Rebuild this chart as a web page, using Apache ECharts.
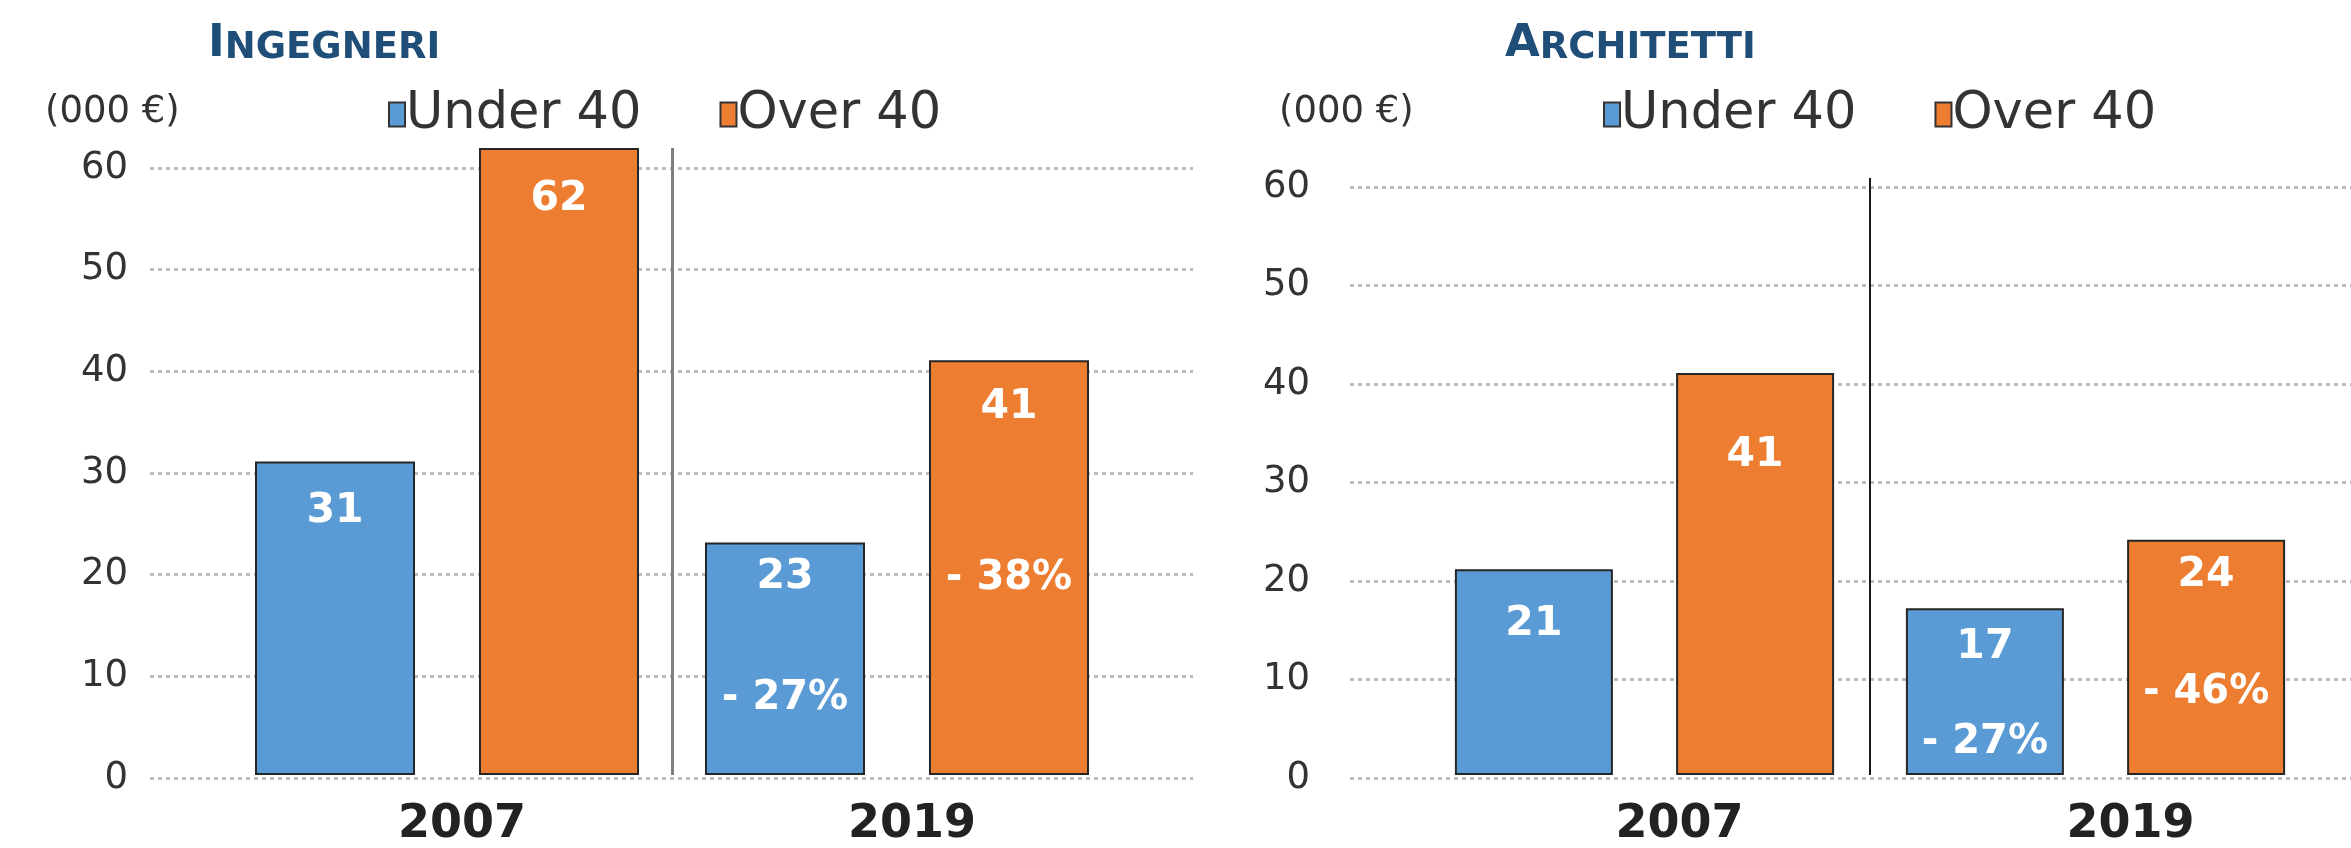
<!DOCTYPE html>
<html>
<head>
<meta charset="utf-8">
<script src="https://cdn.jsdelivr.net/npm/echarts@6/dist/echarts.min.js"></script>
<style>
  html, body { margin: 0; padding: 0; background: #fff; }
  #chart { width: 2351px; height: 848px; }
</style>
</head>
<body>
<div id="chart"></div>
<script>
// data
const years = ['2007', '2019'];
const groups = ['Under 40', 'Over 40'];
const yTicks = [0, 10, 20, 30, 40, 50, 60];

const ingUnder = [31, 23];
const ingOver = [62, 41];
const ingUnderPct = ['', '- 27%'];
const ingOverPct = ['', '- 38%'];

const archUnder = [21, 17];
const archOver = [41, 24];
const archUnderPct = ['', '- 27%'];
const archOverPct = ['', '- 46%'];

// colours / fonts
const BLUE = '#5b9bd5';
const ORANGE = '#ed7d31';
const FONT = 'DejaVu Sans';
const TITLE_COLOR = '#1f4e79';

// label placement (px below bar top): value label and % label
const ingUnderDy = { val: [50, 35], pct: [0, 156] };
const ingOverDy = { val: [51, 47], pct: [0, 218] };
const archUnderDy = { val: [55, 39], pct: [0, 134] };
const archOverDy = { val: [82, 36], pct: [0, 153] };

const chart = echarts.init(document.getElementById('chart'));

// build bar items with their white labels
function barItems(values, pcts, dy) {
  return values.map((v, i) => {
    const label = {
      show: true,
      position: ['50%', dy.val[i] - 22],
      align: 'center',
      verticalAlign: 'top',
      color: '#fff',
      fontFamily: FONT,
      fontWeight: 'bold',
      fontSize: 41,
      lineHeight: 44
    };
    if (pcts[i]) {
      label.formatter = '{v|' + v + '}\n{p|' + pcts[i] + '}';
      label.rich = {
        v: { color: '#fff', fontFamily: FONT, fontWeight: 'bold', fontSize: 41, lineHeight: 44 },
        p: { color: '#fff', fontFamily: FONT, fontWeight: 'bold', fontSize: 40,
             lineHeight: 2 * (dy.pct[i] - dy.val[i] - 22) }
      };
    } else {
      label.formatter = String(v);
    }
    return { value: v, label: label };
  });
}

function titleText(first, rest) {
  return '{a|' + first + '}{b|' + rest + '}';
}
const titleRich = {
  a: { fontFamily: FONT, fontWeight: 'bold', fontSize: 45, color: TITLE_COLOR, verticalAlign: 'bottom', lineHeight: 48 },
  b: { fontFamily: FONT, fontWeight: 'bold', fontSize: 37, color: TITLE_COLOR, verticalAlign: 'bottom', lineHeight: 48 }
};

const gridAxisY = (gridIndex, margin) => ({
  type: 'value',
  gridIndex: gridIndex,
  min: yTicks[0],
  max: yTicks[yTicks.length - 1],
  interval: yTicks[1] - yTicks[0],
  axisLine: { show: false },
  axisTick: { show: false },
  axisLabel: { color: '#333', fontFamily: FONT, fontSize: 37, margin: margin },
  splitLine: { lineStyle: { color: '#bcbcbc', width: 3, type: [4, 4] } }
});

const barAxisX = (gridIndex, sepColor, sepWidth, shift) => ({
  type: 'category',
  gridIndex: gridIndex,
  data: years,
  axisLine: { show: false },
  axisTick: { show: false },
  axisLabel: {
    color: '#222', fontFamily: FONT, fontWeight: 'bold', fontSize: 46, margin: 27,
    padding: [0, 0, 0, shift * 2]
  },
  splitLine: {
    show: true, showMinLine: false, showMaxLine: false,
    lineStyle: { color: sepColor, width: sepWidth, type: 'solid' }
  }
});

const legendCommon = {
  data: groups,
  icon: 'rect',
  itemWidth: 16,
  itemHeight: 24,
  itemGap: 78,
  top: 84,
  textStyle: { color: '#333', fontFamily: FONT, fontSize: 51, padding: [0, 0, 0, -4] },
  itemStyle: { borderColor: '#333', borderWidth: 2 }
};

const barCommon = {
  type: 'bar',
  barWidth: 160,
  barGap: '40%',
  itemStyle: { borderColor: '#262626', borderWidth: 2 }
};

const unitStyle = { color: '#333', fontFamily: FONT, fontWeight: 'normal', fontSize: 37 };

chart.setOption({
  backgroundColor: '#fff',
  animation: false,
  title: [
    { text: titleText('I', 'NGEGNERI'), left: 203, top: 14, textStyle: { rich: titleRich } },
    { text: titleText('A', 'RCHITETTI'), left: 1500, top: 14, textStyle: { rich: titleRich } },
    { text: '(000 €)', left: 40, top: 89, textStyle: unitStyle },
    { text: '(000 €)', left: 1274, top: 89, textStyle: unitStyle }
  ],
  legend: [
    Object.assign({ left: 383 }, legendCommon),
    Object.assign({ left: 1598 }, legendCommon)
  ],
  grid: [
    { left: 150, top: 168, width: 1043, height: 610 },   // Ingegneri gridlines
    { left: 222, top: 148, width: 900, height: 630 },    // Ingegneri bars
    { left: 1350, top: 187, width: 1001, height: 591 },  // Architetti gridlines
    { left: 1419, top: 178, width: 902, height: 600 }    // Architetti bars
  ],
  xAxis: [
    { type: 'category', gridIndex: 0, data: [''], show: false },
    barAxisX(1, '#7f7f7f', 3, 15),
    { type: 'category', gridIndex: 2, data: [''], show: false },
    barAxisX(3, '#1a1a1a', 2, 35)
  ],
  yAxis: [
    gridAxisY(0, 22),
    { type: 'value', gridIndex: 1, min: 0, max: 62, show: false, splitLine: { show: false } },
    gridAxisY(2, 40),
    { type: 'value', gridIndex: 3, min: 0, max: 60.9, show: false, splitLine: { show: false } }
  ],
  series: [
    Object.assign({}, barCommon, {
      name: groups[0], xAxisIndex: 1, yAxisIndex: 1, color: BLUE,
      data: barItems(ingUnder, ingUnderPct, ingUnderDy)
    }),
    Object.assign({}, barCommon, {
      name: groups[1], xAxisIndex: 1, yAxisIndex: 1, color: ORANGE,
      data: barItems(ingOver, ingOverPct, ingOverDy)
    }),
    Object.assign({}, barCommon, {
      name: groups[0], xAxisIndex: 3, yAxisIndex: 3, color: BLUE, barWidth: 158,
      data: barItems(archUnder, archUnderPct, archUnderDy)
    }),
    Object.assign({}, barCommon, {
      name: groups[1], xAxisIndex: 3, yAxisIndex: 3, color: ORANGE, barWidth: 158,
      data: barItems(archOver, archOverPct, archOverDy)
    })
  ]
});
</script>
</body>
</html>
